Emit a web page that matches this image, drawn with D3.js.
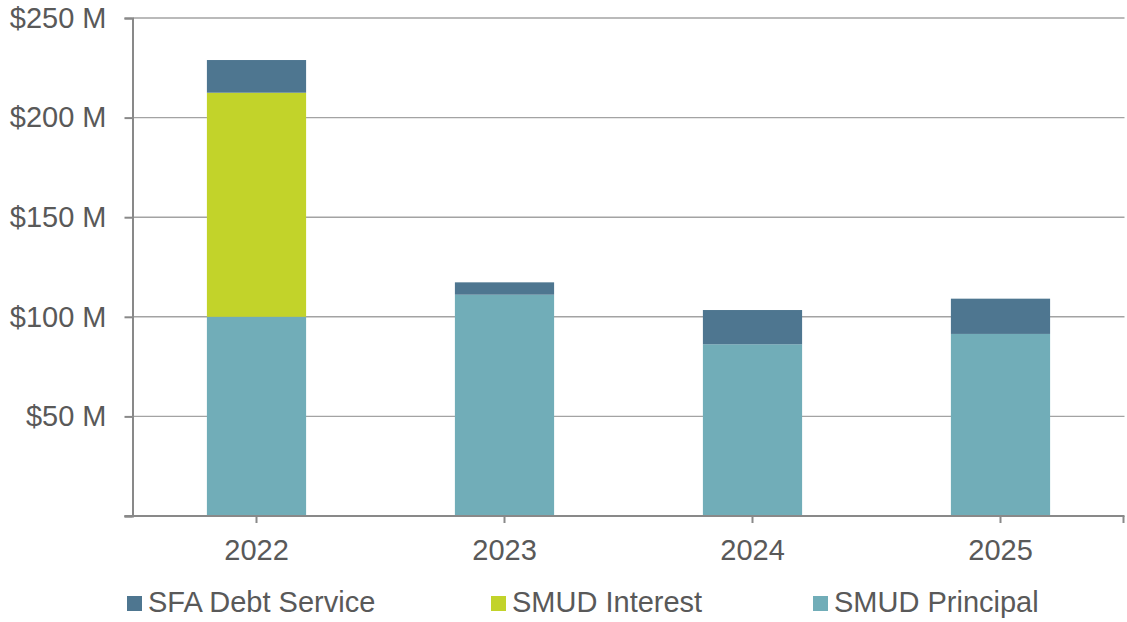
<!DOCTYPE html>
<html>
<head>
<meta charset="utf-8">
<script src="https://cdn.jsdelivr.net/npm/d3@7"></script>
<style>
  body { margin: 0; background: #fff; }
  text { font-family: "Liberation Sans", Arial, sans-serif; fill: #595959; }
</style>
</head>
<body>
<div id="chart"></div>
<script>
// chart values, $ millions
var years = ["2022", "2023", "2024", "2025"];
var smudPrincipal = [100, 111.1, 86.2, 91.4];
var smudInterest = [112.5, 0, 0, 0];
var sfaDebtService = [16.4, 6.2, 17.2, 17.7];
var yTicks = [50, 100, 150, 200, 250];
var seriesNames = ["SMUD Principal", "SMUD Interest", "SFA Debt Service"];
var legendOrder = ["SFA Debt Service", "SMUD Interest", "SMUD Principal"];

var colors = {
  "SMUD Principal": "#71adb8",
  "SMUD Interest": "#c2d32a",
  "SFA Debt Service": "#4e7690"
};

var width = 1127, height = 622;
var margin = {top: 18, right: 2.5, bottom: 106, left: 132.5};

var svg = d3.select("#chart").append("svg")
  .attr("width", width)
  .attr("height", height);

var x = d3.scaleBand()
  .domain(years)
  .range([margin.left, width - margin.right])
  .paddingInner(0.6)
  .paddingOuter(0.3);

var y = d3.scaleLinear()
  .domain([0, 250])
  .range([height - margin.bottom, margin.top]);

// table for the stack
var rows = years.map(function(yr, i) {
  return {
    year: yr,
    "SMUD Principal": smudPrincipal[i],
    "SMUD Interest": smudInterest[i],
    "SFA Debt Service": sfaDebtService[i]
  };
});
var stacked = d3.stack().keys(seriesNames)(rows);

// gridlines
svg.append("g")
  .selectAll("line")
  .data(yTicks)
  .enter()
  .append("line")
  .attr("x1", margin.left)
  .attr("x2", width - margin.right)
  .attr("y1", function(d) { return y(d); })
  .attr("y2", function(d) { return y(d); })
  .attr("stroke", "#a3a3a3")
  .attr("stroke-width", 1.4);

// bars
svg.append("g")
  .selectAll("g")
  .data(stacked)
  .enter()
  .append("g")
  .attr("fill", function(d) { return colors[d.key]; })
  .selectAll("rect")
  .data(function(d) { return d.filter(function(p) { return p[1] - p[0] > 0; }); })
  .enter()
  .append("rect")
  .attr("x", function(d) { return x(d.data.year); })
  .attr("width", x.bandwidth())
  .attr("y", function(d) { return y(d[1]); })
  .attr("height", function(d) { return y(d[0]) - y(d[1]); });

// y axis
var yAxis = svg.append("g")
  .attr("transform", "translate(" + margin.left + ",0)")
  .call(d3.axisLeft(y)
    .tickValues([0].concat(yTicks))
    .tickSize(8)
    .tickPadding(18)
    .tickFormat(function(d) { return d === 0 ? "" : "$" + d + " M"; }));
yAxis.select(".domain").attr("stroke", "#898989").attr("stroke-width", 2);
yAxis.selectAll(".tick line").attr("stroke", "#898989").attr("stroke-width", 2);
yAxis.selectAll(".tick text")
  .attr("fill", "#595959")
  .style("font-size", "29px")
  .style("font-family", "'Liberation Sans', Arial, sans-serif");

// x axis
var xAxis = svg.append("g")
  .attr("transform", "translate(0," + y(0) + ")")
  .call(d3.axisBottom(x).tickSize(7).tickSizeOuter(0).tickPadding(16));
xAxis.select(".domain").remove();
xAxis.append("line")
  .attr("x1", margin.left - 8)
  .attr("x2", width - margin.right)
  .attr("stroke", "#898989")
  .attr("stroke-width", 2);
xAxis.append("line")
  .attr("x1", width - margin.right - 1)
  .attr("x2", width - margin.right - 1)
  .attr("y1", 0)
  .attr("y2", 7)
  .attr("stroke", "#898989")
  .attr("stroke-width", 2);
xAxis.selectAll(".tick line").attr("stroke", "#898989").attr("stroke-width", 2);
xAxis.selectAll(".tick text")
  .attr("fill", "#595959")
  .style("font-size", "29px")
  .style("font-family", "'Liberation Sans', Arial, sans-serif");

// legend
var legendX = [127, 491, 813];
var legend = svg.append("g")
  .selectAll("g")
  .data(legendOrder)
  .enter()
  .append("g")
  .attr("transform", function(d, i) { return "translate(" + legendX[i] + ",596)"; });

legend.append("rect")
  .attr("width", 15)
  .attr("height", 15)
  .attr("fill", function(d) { return colors[d]; });

legend.append("text")
  .attr("x", 21)
  .attr("y", 16)
  .style("font-size", "29px")
  .text(function(d) { return d; });
</script>
</body>
</html>
